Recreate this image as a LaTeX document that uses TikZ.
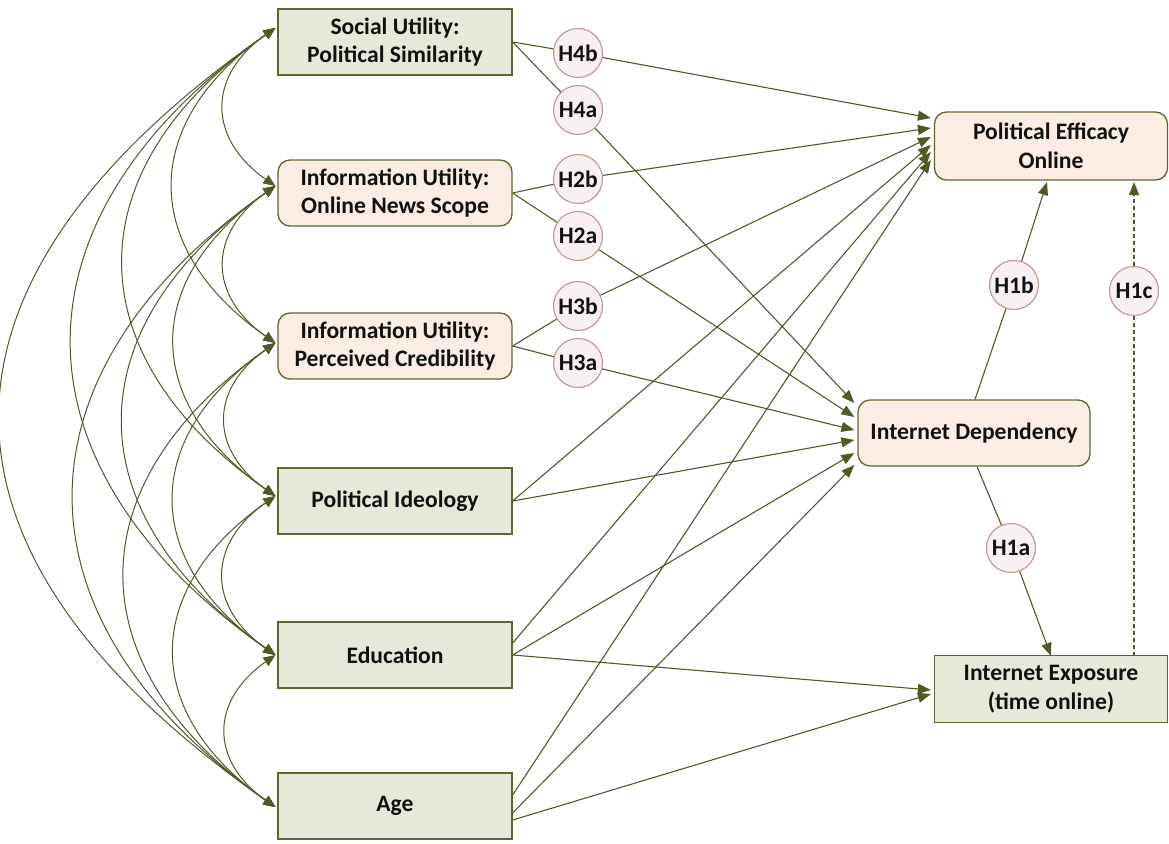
\documentclass[tikz,border=0pt]{standalone}
\usepackage{fontspec}
\setmainfont{Carlito}
\usetikzlibrary{arrows.meta,calc}
\definecolor{lnC}{HTML}{4F5A26}
\definecolor{bdC}{HTML}{5C6830}
\definecolor{grnF}{HTML}{E6E9DA}
\definecolor{pnkF}{HTML}{FBECE4}
\definecolor{cirF}{HTML}{F8F0F0}
\definecolor{cirD}{HTML}{BF958C}
\definecolor{txC}{HTML}{111111}
\tikzset{
  box/.style={draw=bdC, line width=1.3pt, minimum width=234pt, minimum height=66pt,
    align=center, inner sep=0pt, text=txC, font=\fontsize{23.6}{28.5}\selectfont\bfseries},
  gbox/.style={box, fill=grnF},
  pbox/.style={box, fill=pnkF, rounded corners=12pt},
  hyp/.style={circle, draw=cirD, fill=cirF, line width=1.1pt, minimum size=49pt,
    inner sep=0pt, text=txC, font=\fontsize{23.6}{28}\selectfont\bfseries},
  link/.style={draw=lnC, line width=1.1pt, -{Triangle[length=13pt,width=10pt]}},
  dlink/.style={link, dash pattern=on 4pt off 3pt},
  dbl/.style={draw=lnC, line width=1pt, {Triangle[length=12pt,width=10pt]}-{Triangle[length=12pt,width=10pt]}},
}
\begin{document}
\begin{tikzpicture}[x=1pt,y=1pt]
\useasboundingbox (0,0) rectangle (1169,-843);
% boxes
\node[gbox] (b1) at (395,-42) {Social Utility:\\Political Similarity};
\node[pbox] (b2) at (395,-193) {Information Utility:\\Online News Scope};
\node[pbox] (b3) at (395,-346) {Information Utility:\\Perceived Credibility};
\node[gbox] (b4) at (395,-501) {Political Ideology};
\node[gbox] (b5) at (395,-655) {Education};
\node[gbox] (b6) at (395,-806) {Age};
\node[pbox, minimum width=233pt, minimum height=68pt] (pe) at (1051,-146) {Political Efficacy\\Online};
\node[pbox, minimum width=232pt] (id) at (974,-433) {Internet Dependency};
\node[gbox, minimum width=233pt, minimum height=67pt] (ie) at (1051,-689) {Internet Exposure\\(time online)};
% hypothesis circles
\node[hyp] (h4b) at (578,-53) {H4b};
\node[hyp] (h4a) at (578,-110) {H4a};
\node[hyp] (h2b) at (578,-179) {H2b};
\node[hyp] (h2a) at (578,-236) {H2a};
\node[hyp] (h3b) at (578,-306) {H3b};
\node[hyp] (h3a) at (578,-363) {H3a};
\node[hyp] (h1b) at (1014,-285) {H1b};
\node[hyp] (h1c) at (1134,-291) {H1c};
\node[hyp] (h1a) at (1011,-548) {H1a};
% left arc end points
\coordinate (L1) at ([xshift=-2pt,yshift=14pt]b1.west);
\coordinate (L2) at ([xshift=-2pt,yshift=7pt]b2.west);
\coordinate (L3) at ([xshift=-2pt,yshift=3pt]b3.west);
\coordinate (L4) at ([xshift=-2pt,yshift=5pt]b4.west);
\coordinate (L5) at ([xshift=-2pt]b5.west);
\coordinate (L6) at ([xshift=-2pt,yshift=-1pt]b6.west);
% target points
\coordinate (pe1) at ([xshift=-3pt]pe.west |- 0,-118);
\coordinate (pe2) at ([xshift=-3pt]pe.west |- 0,-128);
\coordinate (pe3) at ([xshift=-3pt]pe.west |- 0,-137);
\coordinate (pe4) at ([xshift=-3pt]pe.west |- 0,-145);
\coordinate (pe5) at ([xshift=-3pt]pe.west |- 0,-152);
\coordinate (pe6) at ([xshift=-3pt]pe.west |- 0,-160);
\coordinate (id1) at ([xshift=-3pt]id.west |- 0,-403);
\coordinate (id2) at ([xshift=-3pt]id.west |- 0,-417);
\coordinate (id3) at ([xshift=-3pt]id.west |- 0,-430);
\coordinate (id4) at ([xshift=-3pt]id.west |- 0,-440);
\coordinate (id5) at ([xshift=-3pt]id.west |- 0,-453);
\coordinate (id6) at ([xshift=-3pt]id.west |- 0,-465);
\coordinate (ie1) at ([xshift=-3pt]ie.west |- 0,-690);
\coordinate (ie2) at ([xshift=-3pt]ie.west |- 0,-694);
\coordinate (peB1) at (1047,-182);
\coordinate (peB2) at (1134,-182);
\coordinate (ieT1) at (1051,-656);
\coordinate (ieT2) at (1134,-656);
% covariance arcs
\draw[dbl] (L1) to[bend right=55, looseness=1.35] (L2);
\draw[dbl] (L1) to[bend right=55, looseness=1.35] (L3);
\draw[dbl] (L1) to[bend right=55, looseness=1.35] (L4);
\draw[dbl] (L1) to[bend right=55, looseness=1.35] (L5);
\draw[dbl] (L1) to[bend right=55, looseness=1.47] (L6);
\draw[dbl] (L2) to[bend right=55, looseness=1.35] (L3);
\draw[dbl] (L2) to[bend right=55, looseness=1.35] (L4);
\draw[dbl] (L2) to[bend right=55, looseness=1.35] (L5);
\draw[dbl] (L2) to[bend right=55, looseness=1.35] (L6);
\draw[dbl] (L3) to[bend right=55, looseness=1.35] (L4);
\draw[dbl] (L3) to[bend right=55, looseness=1.35] (L5);
\draw[dbl] (L3) to[bend right=55, looseness=1.35] (L6);
\draw[dbl] (L4) to[bend right=55, looseness=1.35] (L5);
\draw[dbl] (L4) to[bend right=55, looseness=1.35] (L6);
\draw[dbl] (L5) to[bend right=55, looseness=1.35] (L6);
% paths
\draw[link] (b1.east) -- (h4b) -- (pe1);
\draw[link] (b1.east) -- (h4a) -- (id1);
\draw[link] (b2.east) -- (h2b) -- (pe2);
\draw[link] (b2.east) -- (h2a) -- (id2);
\draw[link] (b3.east) -- (h3b) -- (pe3);
\draw[link] (b3.east) -- (h3a) -- (id3);
\draw[link] (b4.east) -- (pe4);
\draw[link] (b4.east) -- (id4);
\draw[link] ([yshift=12pt]b5.east) -- (pe5);
\draw[link] (b5.east) -- (id5);
\draw[link] (b5.east) -- (ie1);
\draw[link] ([yshift=11pt]b6.east) -- (pe6);
\draw[link] ([yshift=-7pt]b6.east) -- (id6);
\draw[link] ([yshift=-14pt]b6.east) -- (ie2);
\draw[link] ([xshift=1pt]id.north) -- (h1b) -- (peB1);
\draw[link] ([xshift=3pt]id.south) -- (h1a) -- (ieT1);
\draw[dlink] (ieT2) -- (h1c) -- (peB2);
\end{tikzpicture}
\end{document}
